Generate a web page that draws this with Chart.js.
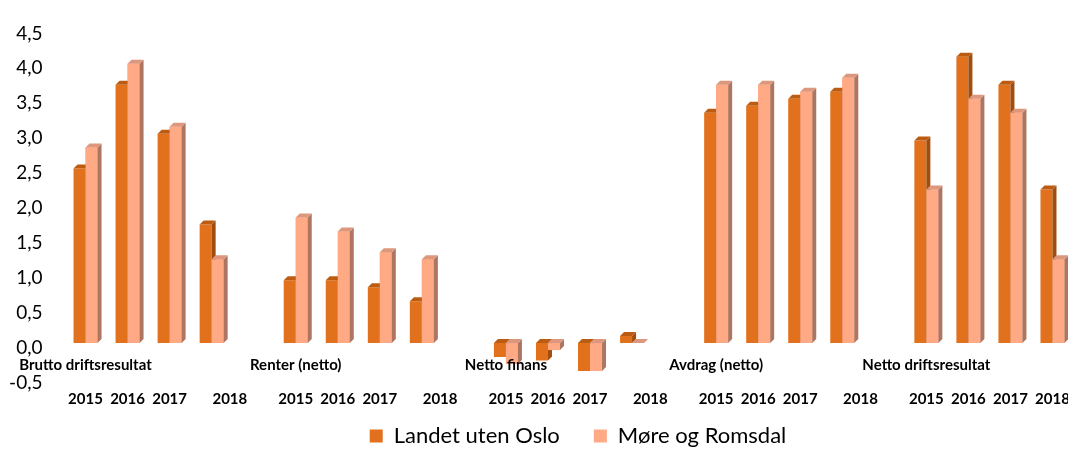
<!DOCTYPE html>
<html>
<head>
<meta charset="utf-8">
<script src="https://cdn.jsdelivr.net/npm/chart.js@4.4.1/dist/chart.umd.min.js"></script>
<style>
html, body { margin: 0; padding: 0; overflow: hidden; background: #fff; }
canvas { display: block; }
</style>
</head>
<body>
<canvas id="c" width="1156" height="457" style="width:1156px;height:457px"></canvas>
<script>
// ---- data ----
const groups = ['Brutto driftsresultat', 'Renter (netto)', 'Netto finans', 'Avdrag (netto)', 'Netto driftsresultat'];
const years = ['2015', '2016', '2017', '2018'];
const seriesNames = ['Landet uten Oslo', 'Møre og Romsdal'];
// values per group, in order of years
const landetUtenOslo = [
  2.5, 3.7, 3.0, 1.7,
  0.9, 0.9, 0.8, 0.6,
  -0.2, -0.25, -0.4, 0.1,
  3.3, 3.4, 3.5, 3.6,
  2.9, 4.1, 3.7, 2.2
];
const moreOgRomsdal = [
  2.8, 4.0, 3.1, 1.2,
  1.8, 1.6, 1.3, 1.2,
  -0.3, -0.1, -0.4, 0.0,
  3.7, 3.7, 3.6, 3.8,
  2.2, 3.5, 3.3, 1.2
];
const yTicks = [-0.5, 0, 0.5, 1, 1.5, 2, 2.5, 3, 3.5, 4, 4.5];

// ---- build category slots (4 years per group, one empty slot between groups) ----
const labels = [];
const dataA = [];
const dataB = [];
groups.forEach((g, gi) => {
  years.forEach((y, yi) => {
    const lastYear = yi === years.length - 1 && gi < groups.length - 1;
    const yl = lastYear ? '          ' + y : y;
    labels.push([yi === 0 ? g : '', '', yl]);
    dataA.push(landetUtenOslo[gi * 4 + yi]);
    dataB.push(moreOgRomsdal[gi * 4 + yi]);
  });
  if (gi < groups.length - 1) {
    labels.push(['', '', '']);
    dataA.push(null);
    dataB.push(null);
  }
});

const FONT = 'Lato, "Open Sans", sans-serif';
const DEPTH = 4;
const SHIFT = 4.5;

function drawFaces(ctx, el, ds) {
  const p = el.getProps(['x', 'y', 'base', 'width'], true);
  if (!isFinite(p.y) || !isFinite(p.base)) return;
  const l = p.x - p.width / 2, r = p.x + p.width / 2;
  const t = Math.min(p.y, p.base), b = Math.max(p.y, p.base);
  ctx.fillStyle = ds.sideColor;
  ctx.beginPath();
  ctx.moveTo(r, t); ctx.lineTo(r + DEPTH, t - DEPTH);
  ctx.lineTo(r + DEPTH, b - DEPTH); ctx.lineTo(r, b);
  ctx.closePath(); ctx.fill();
  ctx.fillStyle = ds.topColor;
  ctx.beginPath();
  ctx.moveTo(l, t); ctx.lineTo(l + DEPTH, t - DEPTH);
  ctx.lineTo(r + DEPTH, t - DEPTH); ctx.lineTo(r, t);
  ctx.closePath(); ctx.fill();
}

const bar3d = {
  id: 'bar3d',
  beforeDatasetsDraw(chart) {
    chart.ctx.save();
    chart.ctx.translate(0, -SHIFT);
  },
  afterDatasetsDraw(chart) {
    const ctx = chart.ctx;
    const dsA = chart.data.datasets[0], dsB = chart.data.datasets[1];
    const mA = chart.getDatasetMeta(0), mB = chart.getDatasetMeta(1);
    for (let i = 0; i < chart.data.labels.length; i++) {
      if (dsA.data[i] !== null) drawFaces(ctx, mA.data[i], dsA);
      if (dsB.data[i] !== null) {
        mB.data[i].draw(ctx);
        drawFaces(ctx, mB.data[i], dsB);
      }
    }
    ctx.restore();
  }
};

new Chart(document.getElementById('c'), {
  type: 'bar',
  data: {
    labels: labels,
    datasets: [
      {
        label: seriesNames[0], data: dataA,
        backgroundColor: '#E2711D', sideColor: '#A04D0F', topColor: '#BC5C13',
        categoryPercentage: 0.571, barPercentage: 1.0, borderWidth: 0
      },
      {
        label: seriesNames[1], data: dataB,
        backgroundColor: '#FFA985', sideColor: '#AE7661', topColor: '#DC977C',
        categoryPercentage: 0.571, barPercentage: 1.0, borderWidth: 0
      }
    ]
  },
  options: {
    responsive: false,
    devicePixelRatio: 1,
    animation: false,
    layout: { padding: { left: 0, right: 0, top: 27, bottom: 0 } },
    plugins: {
      legend: {
        position: 'bottom',
        labels: {
          boxWidth: 13, boxHeight: 13, padding: 34, color: '#000',
          font: { family: FONT, size: 22 }
        }
      },
      tooltip: { enabled: false }
    },
    scales: {
      x: {
        offset: true,
        grid: { display: false, drawTicks: false },
        border: { display: false },
        ticks: {
          z: 1,
          autoSkip: false, maxRotation: 0, minRotation: 0,
          mirror: true, padding: 9, color: '#000',
          font: { family: FONT, size: 15, weight: 'bold', lineHeight: 17 / 15 }
        },
        afterFit(s) { s.height = 8.5; }
      },
      y: {
        min: -0.5, max: 4.5,
        afterBuildTicks(s) { s.ticks = yTicks.map(v => ({ value: v })); },
        grid: { display: false, drawTicks: false },
        border: { display: false },
        ticks: {
          padding: 22, color: '#000',
          font: { family: FONT, size: 19 },
          callback: v => v.toFixed(1).replace('.', ',')
        },
        afterFit(s) { s.width = 64.5; }
      },
      yR: {
        position: 'right',
        display: true,
        grid: { display: false, drawTicks: false },
        border: { display: false },
        ticks: { display: false },
        afterFit(s) { s.width = 82.5; }
      }
    }
  },
  plugins: [bar3d]
});
</script>
</body>
</html>
